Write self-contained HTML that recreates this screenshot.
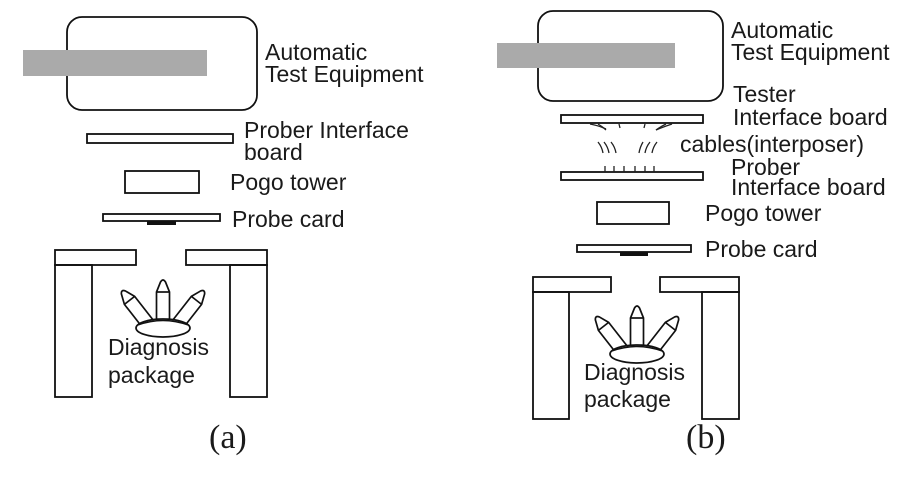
<!DOCTYPE html>
<html><head><style>
html,body{margin:0;padding:0;background:#fff;width:912px;height:484px;overflow:hidden}
svg text{font-family:"Liberation Sans",Arial,sans-serif;fill:#1a1a1a}
</style></head><body>
<svg width="912" height="484" viewBox="0 0 912 484" xmlns="http://www.w3.org/2000/svg">
<defs>
<g id="pencil" fill="#fff" stroke="#111" stroke-width="1.7" stroke-linejoin="round">
  <path d="M-6.5,0 L-6.5,-30 L-2.5,-40 Q0,-44 2.5,-40 L6.5,-30 L6.5,0 Z"/>
  <line x1="-6.5" y1="-30" x2="6.5" y2="-30"/>
</g>
<g id="crown">
  <use href="#pencil" transform="translate(-15,-4) rotate(-38)"/>
  <use href="#pencil" transform="translate(15,-4) rotate(38)"/>
  <use href="#pencil" transform="translate(0,-6)"/>
  <ellipse cx="0" cy="0" rx="27" ry="9" fill="#fff" stroke="#111" stroke-width="1.7"/>
  <path d="M-25,-3 Q0,-12 25,-3" fill="none" stroke="#111" stroke-width="1.4"/>
</g>
</defs>
<g fill="none" stroke="#111" stroke-width="1.8">
  <rect x="67" y="17" width="190" height="93" rx="15"/>
  <rect x="87" y="134" width="146" height="9"/>
  <rect x="125" y="171" width="74" height="22"/>
  <rect x="103" y="214" width="117" height="7"/>
  <rect x="55" y="250" width="81" height="15"/>
  <rect x="55" y="265" width="37" height="132"/>
  <rect x="186" y="250" width="81" height="15"/>
  <rect x="230" y="265" width="37" height="132"/>
  <rect x="538" y="11" width="185" height="90" rx="15"/>
  <rect x="561" y="115" width="142" height="8"/>
  <rect x="561" y="172" width="142" height="8"/>
  <rect x="597" y="202" width="72" height="22"/>
  <rect x="577" y="245" width="114" height="7"/>
  <rect x="533" y="277" width="78" height="15"/>
  <rect x="533" y="292" width="36" height="127"/>
  <rect x="660" y="277" width="79" height="15"/>
  <rect x="702" y="292" width="37" height="127"/>
</g>
<rect x="23" y="50" width="184" height="26" fill="#aaa"/>
<rect x="497" y="43" width="178" height="25" fill="#aaa"/>
<rect x="147" y="221" width="29" height="4" fill="#111"/>
<rect x="620" y="252" width="28" height="4" fill="#111"/>
<g fill="none" stroke="#222" stroke-width="1.3">
  <path d="M590,124 Q600,126 606,129"/><path d="M598,124 Q603,127 606,130"/>
  <path d="M619,124 L620,128"/><path d="M645,124 L644,128"/>
  <path d="M672,124 Q663,127 656,130"/><path d="M666,124 Q660,127 656,130"/>
  <path d="M598,142 Q602,147 603,153"/><path d="M604,142 Q608,147 609,153"/><path d="M611,142 Q615,147 616,153"/>
  <path d="M643,142 Q640,147 639,153"/><path d="M650,142 Q646,147 645,153"/><path d="M657,142 Q653,147 652,153"/>
  <path d="M605,166 V172 M614,166 V172 M624,166 V172 M635,166 V172 M645,166 V172 M654,166 V172"/>
  <path d="M600,172 H660"/>
</g>
<use href="#crown" transform="translate(163,328)"/>
<use href="#crown" transform="translate(637,354)"/>
<g font-size="23">
  <text x="265" y="60">Automatic</text>
  <text x="265" y="82">Test Equipment</text>
  <text x="244" y="138">Prober Interface</text>
  <text x="244" y="160">board</text>
  <text x="230" y="190">Pogo tower</text>
  <text x="232" y="227">Probe card</text>
  <text x="108" y="355">Diagnosis</text>
  <text x="108" y="383">package</text>
  <text x="731" y="38">Automatic</text>
  <text x="731" y="60">Test Equipment</text>
  <text x="733" y="102">Tester</text>
  <text x="733" y="125">Interface board</text>
  <text x="680" y="152">cables(interposer)</text>
  <text x="731" y="175">Prober</text>
  <text x="731" y="195">Interface board</text>
  <text x="705" y="221">Pogo tower</text>
  <text x="705" y="257">Probe card</text>
  <text x="584" y="380">Diagnosis</text>
  <text x="584" y="407">package</text>
</g>
<text x="209" y="448" font-size="34" style="font-family:'Liberation Serif',serif">(a)</text>
<text x="686" y="448" font-size="34" style="font-family:'Liberation Serif',serif">(b)</text>
</svg>
</body></html>
